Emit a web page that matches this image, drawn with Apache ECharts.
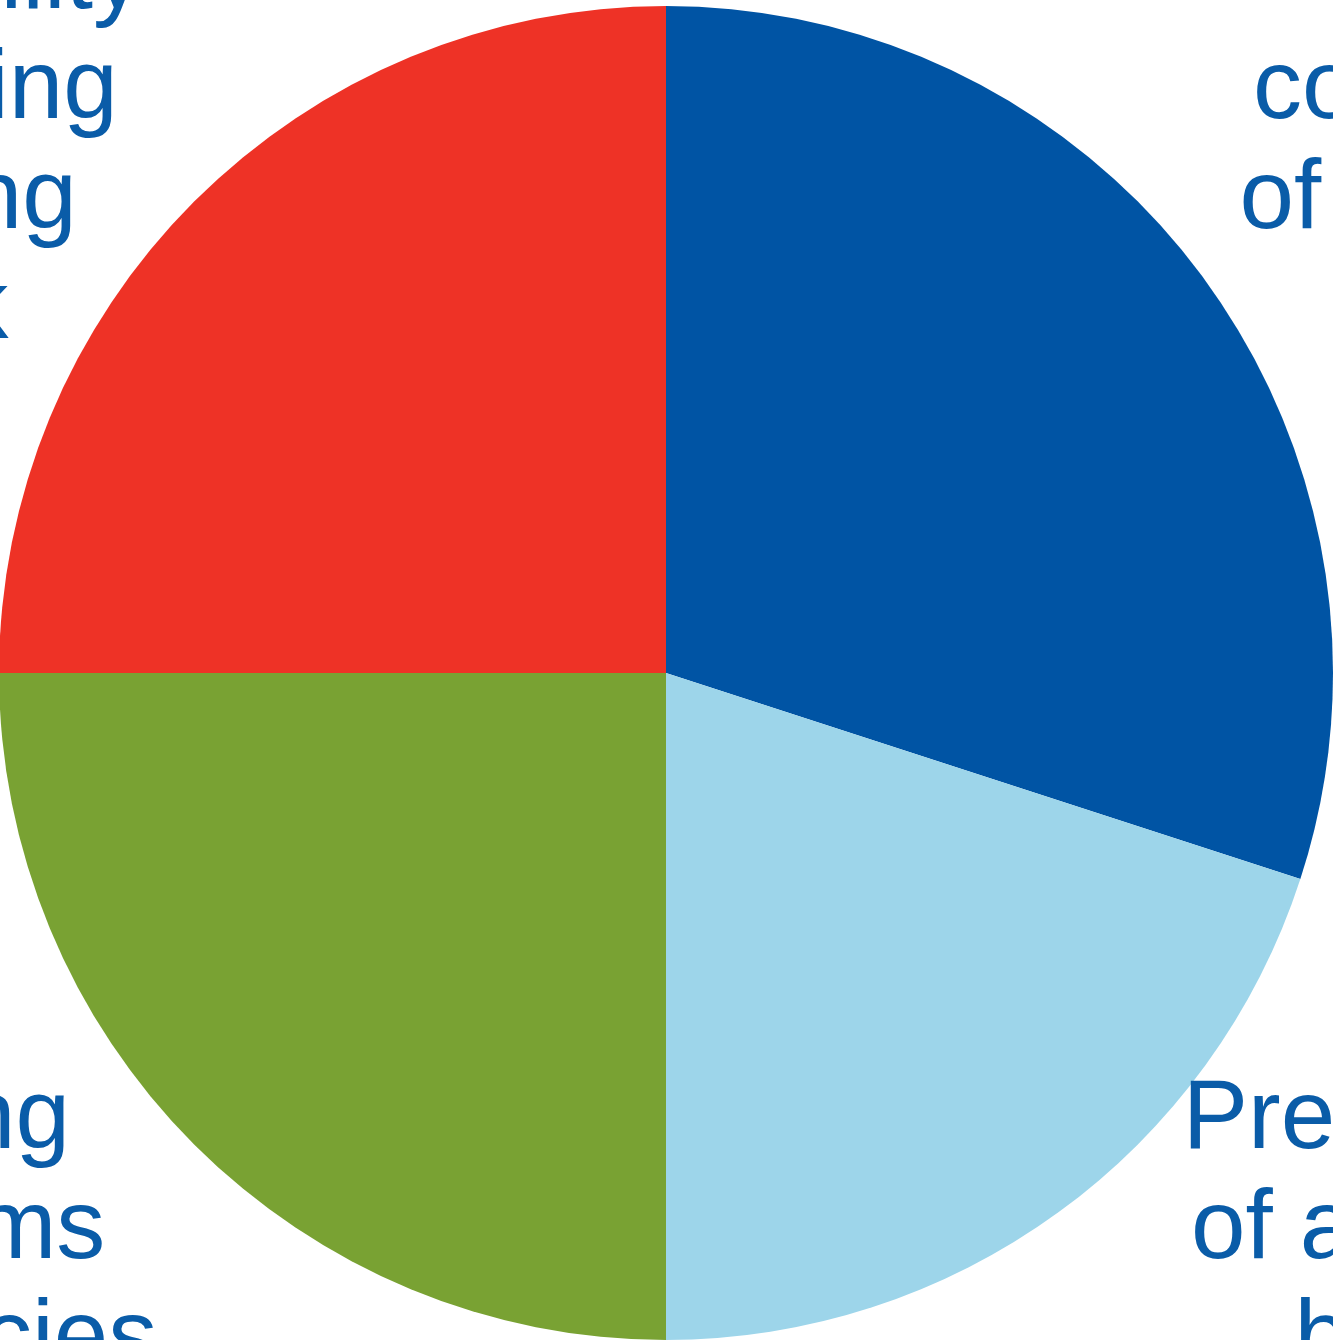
<!DOCTYPE html>
<html>
<head>
<meta charset="utf-8">
<title>Pie</title>
<script src="https://cdn.jsdelivr.net/npm/echarts@6/dist/echarts.min.js"></script>
<style>
    html, body { margin: 0; padding: 0; background: #ffffff; overflow: hidden; }
    #chart { width: 1333px; height: 1340px; }
</style>
</head>
<body>
<div id="chart"></div>
<script>
// 扇区名称（标签文本）
const categories = [
    'confidence\nof investors',
    'Prevention\nof a global\nboom',
    'Strengthening\ncontrol systems\nof public agencies',
    'Financial stability\nand the banking\nsector funding\nmarket risk'
];

// 扇区数值（%）
const values = [30, 20, 25, 25];

// 扇区颜色
const sliceColors = ['#0054a4', '#9dd5ea', '#79a233', '#ee3226'];

// 标签中心位置（像素）
const labelPositions = [
    [1490, 146],
    [1417, 1231],
    [-235, 1231],
    [-231, 146]
];

const chartInstance = echarts.init(document.getElementById('chart'));

const option = {
    animation: false,
    series: [
        {
            type: 'pie',
            center: [666, 673],
            radius: [0, 667],
            startAngle: 90,
            clockwise: true,
            avoidLabelOverlap: false,
            data: categories.map((name, i) => ({
                name: name,
                value: values[i],
                itemStyle: { color: sliceColors[i] }
            })),
            itemStyle: { borderWidth: 0 },
            label: {
                show: true,
                position: 'outside',
                formatter: '{b}',
                fontFamily: 'Liberation Sans, Arial, sans-serif',
                fontSize: 98,
                lineHeight: 110,
                color: '#0a5ca8',
                align: 'center'
            },
            labelLine: { show: false },
            labelLayout: params => ({
                x: labelPositions[params.dataIndex][0],
                y: labelPositions[params.dataIndex][1],
                align: 'center',
                verticalAlign: 'middle'
            }),
            emphasis: { disabled: true }
        }
    ]
};

chartInstance.setOption(option);
</script>
</body>
</html>
